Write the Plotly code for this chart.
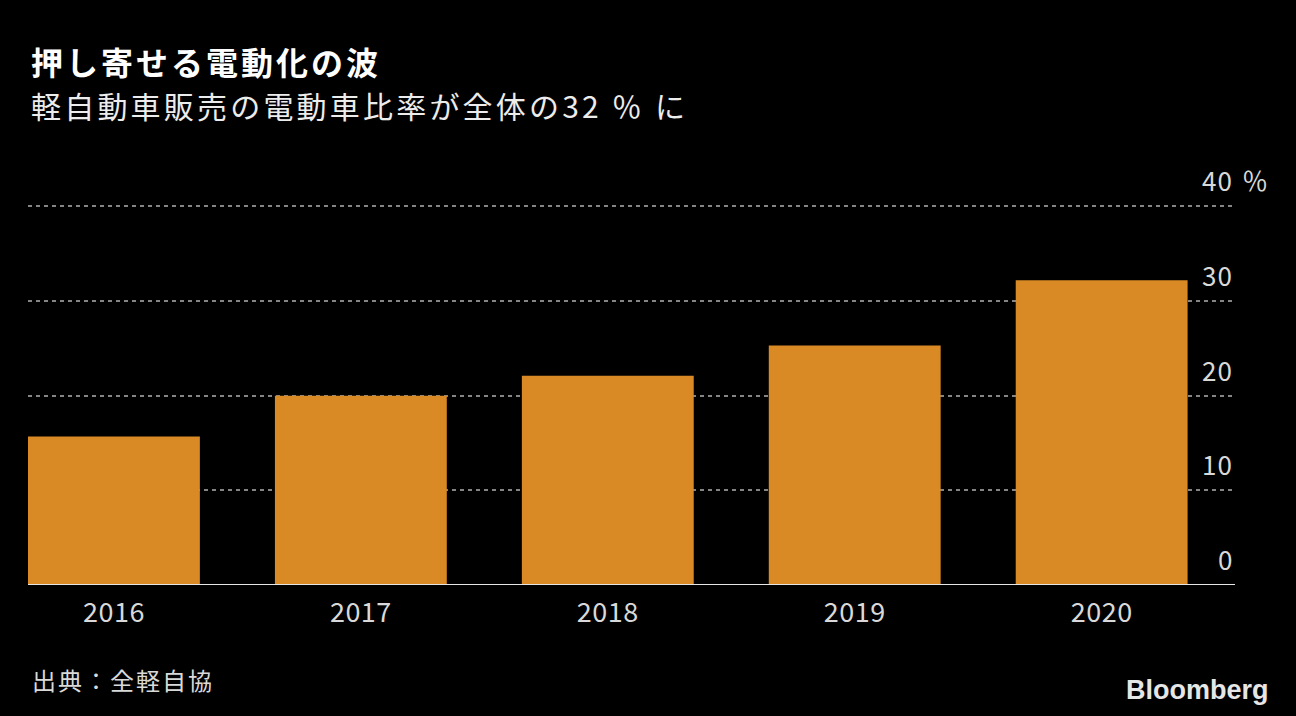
import plotly.graph_objects as go

years = ["2016", "2017", "2018", "2019", "2020"]
ev_share = [15.7, 20.0, 22.1, 25.3, 32.2]
ytick_vals = [0, 10, 20, 30, 40]
ytick_text = ["0", "10", "20", "30", "40"]

title = "押し寄せる電動化の波"
subtitle = "軽自動車販売の電動車比率が全体の32 ％ に"
source = "出典：全軽自協"

FONT = "Noto Sans CJK JP"
BAR = "#DA8A24"

W, H = 1296, 716
ML, MR, MT, MB = 28, 61, 197, 131

fig = go.Figure()
fig.add_trace(go.Bar(x=years, y=ev_share, marker=dict(color=BAR, line=dict(width=0)),
                     hoverinfo="skip"))

fig.update_layout(
    width=W, height=H,
    paper_bgcolor="#000000", plot_bgcolor="#000000",
    margin=dict(l=ML, r=MR, t=MT, b=MB),
    bargap=0.304,
    showlegend=False,
    font=dict(family=FONT, color="#d9d9d9"),
)
fig.update_xaxes(
    type="category", range=[-0.348, 4.54],
    tickvals=years,
    ticktext=['<span style="letter-spacing:0.5px">%s</span>' % y for y in years],
    showgrid=False, showline=False, zeroline=False,
    ticks="", tickfont=dict(size=27, color="#d9d9d9", family=FONT),
    ticklabelstandoff=9,
)
fig.update_yaxes(
    range=[0, 41], tickvals=ytick_vals[1:], showticklabels=False,
    showgrid=True, gridcolor="#858585", griddash="4px,4px", gridwidth=1.6,
    zeroline=False, showline=False, ticks="",
)
# zero baseline
fig.add_shape(type="line", xref="paper", yref="y", x0=0, x1=1, y0=0, y1=0,
              line=dict(color="#e6e6e6", width=2), layer="above")

for v, t in zip(ytick_vals, ytick_text):
    fig.add_annotation(xref="paper", yref="y", x=1, y=v,
                       text='<span style="letter-spacing:1px">%s</span>' % t,
                       showarrow=False, xanchor="right", yanchor="bottom",
                       yshift=6, font=dict(size=26, color="#d9d9d9", family=FONT))
fig.add_annotation(xref="paper", yref="y", x=1, y=40, xshift=5,
                   text="％", showarrow=False, xanchor="left", yanchor="bottom",
                   yshift=6, font=dict(size=26, color="#d9d9d9", family=FONT))

H_plot = H - MT - MB
def py(ypix):
    return (H - MB - ypix) / H_plot

fig.add_annotation(xref="paper", yref="paper", x=0, xshift=1, y=py(61),
                   text='<b><span style="letter-spacing:3px">' + title + '</span></b>',
                   showarrow=False, xanchor="left", yanchor="middle",
                   font=dict(size=32, color="#ffffff", family=FONT))
fig.add_annotation(xref="paper", yref="paper", x=0, xshift=1, y=py(105),
                   text='<span style="letter-spacing:3.2px">' + subtitle + '</span>',
                   showarrow=False, xanchor="left", yanchor="middle",
                   font=dict(size=30, color="#ececec", family=FONT))
fig.add_annotation(xref="paper", yref="paper", x=0, xshift=2, y=py(679),
                   text='<span style="letter-spacing:2px">' + source + '</span>',
                   showarrow=False, xanchor="left", yanchor="middle",
                   font=dict(size=24, color="#d9d9d9", family=FONT))
fig.add_annotation(xref="paper", yref="paper", x=1, xshift=36, y=py(690),
                   text="<b>Bloomberg</b>",
                   showarrow=False, xanchor="right", yanchor="middle",
                   font=dict(size=27, color="#e6e6e6", family="Liberation Sans"))

fig.write_html("out.html", config={"displayModeBar": False},
               post_script="document.body.style.margin='0';document.body.style.background='#000';")
